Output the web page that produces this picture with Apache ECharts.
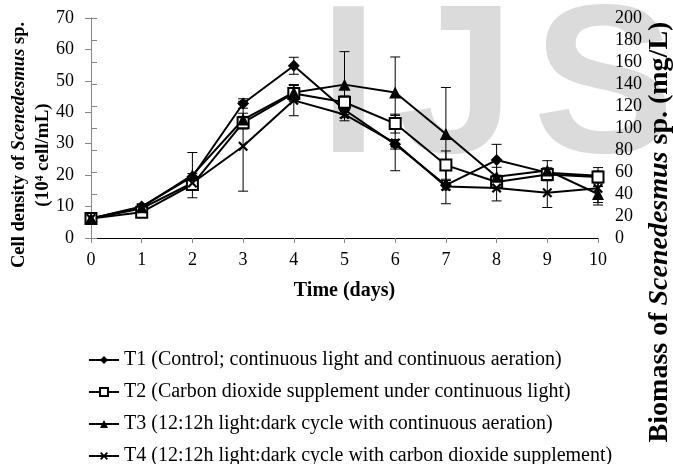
<!DOCTYPE html>
<html><head><meta charset="utf-8">
<script src="https://cdn.jsdelivr.net/npm/echarts@6/dist/echarts.min.js"></script>
<style>html,body{margin:0;padding:0;background:#fff}#c{width:673px;height:464px}</style>
</head><body><div id="c"></div>
<script>
// ---- data ----
const days = [0, 1, 2, 3, 4, 5, 6, 7, 8, 9, 10];
const t1 = [6.2, 10.0, 19.5, 42.8, 54.8, 40.8, 29.8, 16.8, 24.8, 20.8, 19.8];
const t2 = [6.2, 8.2, 17.0, 36.7, 46.0, 43.2, 36.4, 23.2, 17.8, 20.2, 19.4];
const t3 = [6.2, 9.8, 20.0, 37.7, 46.3, 48.8, 46.3, 33.1, 19.5, 21.5, 14.0];
const t4 = [6.2, 9.4, 17.5, 29.2, 43.8, 39.3, 30.2, 16.4, 15.9, 14.4, 15.8];
const e1 = [0.5, 0.8, 1.0, 1.5, 2.7, 1.5, 1.5, 1.5, 5.0, 1.5, 1.5];
const e2 = [0.5, 0.6, 1.5, 2.0, 2.5, 2.0, 3.0, 4.5, 2.0, 2.0, 3.0];
const e3 = [0.5, 1.0, 7.2, 2.0, 2.5, 10.5, 11.3, 14.8, 3.0, 3.1, 3.5];
const e4 = [0.5, 0.8, 2.0, 14.3, 4.9, 2.0, 8.8, 5.5, 4.1, 4.7, 4.5];
const names = [
  'T1 (Control; continuous light and continuous aeration)',
  'T2 (Carbon dioxide supplement under continuous light)',
  'T3 (12:12h light:dark cycle with continuous aeration)',
  'T4 (12:12h light:dark cycle with carbon dioxide supplement)'
];
const leftTitle1 = ['Cell density of ', 'Scenedesmus', ' sp.'];
const leftTitle2 = '(10\u2074 cell/mL)';
const rightTitle = ['Biomass of ', 'Scenedesmus', ' sp. (mg/L)'];
const xTitle = 'Time (days)';
const watermark = ['I', 'J', 'S'];

// ---- chart ----
const SERIF = '"Liberation Serif", "Times New Roman", serif';
const AX = '#868686';
const chart = echarts.init(document.getElementById('c'), null, {renderer: 'canvas'});

function pts(v) { return days.map((d, i) => [d, v[i]]); }
function errSeries(id, v, e) {
  return {
    type: 'custom', name: id, silent: true, z: 3,
    data: days.map((d, i) => [d, v[i] - e[i], v[i] + e[i]]),
    encode: {x: 0, y: [1, 2]},
    renderItem(params, api) {
      const lo = api.coord([api.value(0), api.value(1)]);
      const hi = api.coord([api.value(0), api.value(2)]);
      const w = 5, st = {stroke: '#000', lineWidth: 1};
      return {type: 'group', children: [
        {type: 'line', shape: {x1: lo[0], y1: lo[1], x2: hi[0], y2: hi[1]}, style: st},
        {type: 'line', shape: {x1: lo[0] - w, y1: lo[1], x2: lo[0] + w, y2: lo[1]}, style: st},
        {type: 'line', shape: {x1: hi[0] - w, y1: hi[1], x2: hi[0] + w, y2: hi[1]}, style: st}
      ]};
    }
  };
}
const xSym = 'path://M0,1.6L1.6,0L5,3.4L8.4,0L10,1.6L6.6,5L10,8.4L8.4,10L5,6.6L1.6,10L0,8.4L3.4,5Z';
function lineSeries(name, v, symbol, size, item) {
  return {
    type: 'line', name, data: pts(v), symbol, symbolSize: size, z: 4,
    lineStyle: {color: '#000', width: 2}, itemStyle: item,
    emphasis: {disabled: true}
  };
}
const b = {fontFamily: SERIF, fontWeight: 'bold', fill: '#000'};
const wmStyle = {fontFamily: '"Liberation Sans", Arial, sans-serif', fontWeight: 'bold', fontSize: 212, fill: '#dbdbdb', textVerticalAlign: 'middle', textAlign: 'left'};

function legendFor(i) {
  return {
    data: [names[i]], orient: 'vertical', left: 88, top: 350 + 32 * i, padding: 0,
    itemWidth: 30, itemHeight: 10, selectedMode: false,
    textStyle: {color: '#000', fontFamily: SERIF, fontSize: 20}
  };
}

chart.setOption({
  animation: false,
  backgroundColor: '#fff',
  grid: {left: 91, right: 75, top: 18, bottom: 226, containLabel: false, outerBoundsMode: 'none'},
  xAxis: [{
    type: 'value', min: 0, max: 10, interval: 1, position: 'bottom',
    axisLine: {lineStyle: {color: AX, width: 1}},
    axisTick: {show: true, inside: false, length: 5, lineStyle: {color: AX}},
    axisLabel: {color: '#000', fontFamily: SERIF, fontSize: 18, margin: 13},
    splitLine: {show: false}
  }, {
    type: 'value', min: 0, max: 10, position: 'top',
    axisLine: {show: true, lineStyle: {color: '#000', width: 1}},
    axisTick: {show: false}, axisLabel: {show: false}, splitLine: {show: false}
  }],
  yAxis: [{
    type: 'value', min: 0, max: 70, interval: 10, position: 'left',
    axisLine: {show: true, lineStyle: {color: AX}},
    axisTick: {show: true, length: 6, lineStyle: {color: AX}},
    axisLabel: {color: '#000', fontFamily: SERIF, fontSize: 18, margin: 17},
    splitLine: {show: false}
  }, {
    type: 'value', min: 0, max: 200, interval: 20, position: 'right',
    axisLine: {show: true, lineStyle: {color: AX}},
    axisTick: {show: true, length: 6, lineStyle: {color: AX}},
    axisLabel: {color: '#000', fontFamily: SERIF, fontSize: 18, margin: 17},
    splitLine: {show: false}
  }],
  legend: [legendFor(0), legendFor(1), legendFor(2), legendFor(3)],
  graphic: [
    {type: 'text', x: 319, y: 94, z: -100, silent: true, style: Object.assign({text: watermark[0]}, wmStyle)},
    {type: 'text', x: 397, y: 94, z: -100, silent: true, style: Object.assign({text: watermark[1]}, wmStyle)},
    {type: 'text', x: 533, y: 94, z: -100, silent: true, style: Object.assign({text: watermark[2]}, wmStyle)},
    {type: 'text', x: 19, y: 145, rotation: Math.PI / 2, silent: true,
      style: {text: '{b|' + leftTitle1[0] + '}{i|' + leftTitle1[1] + '}{b|' + leftTitle1[2] + '}',
        textAlign: 'center', textVerticalAlign: 'middle',
        rich: {b: Object.assign({fontSize: 18.5}, b), i: Object.assign({fontSize: 18.5, fontStyle: 'italic'}, b)}}},
    {type: 'text', x: 43, y: 155, rotation: Math.PI / 2, silent: true,
      style: Object.assign({text: leftTitle2, fontSize: 19, textAlign: 'center', textVerticalAlign: 'middle'}, b)},
    {type: 'text', x: 660, y: 232, rotation: Math.PI / 2, silent: true,
      style: {text: '{b|' + rightTitle[0] + '}{i|' + rightTitle[1] + '}{b|' + rightTitle[2] + '}',
        textAlign: 'center', textVerticalAlign: 'middle',
        rich: {b: Object.assign({fontSize: 28}, b), i: Object.assign({fontSize: 28, fontStyle: 'italic'}, b)}}},
    {type: 'text', x: 344.5, y: 291, silent: true,
      style: Object.assign({text: xTitle, fontSize: 20, textAlign: 'center', textVerticalAlign: 'middle'}, b)}
  ],
  series: [
    errSeries('err1', t1, e1), errSeries('err2', t2, e2), errSeries('err3', t3, e3), errSeries('err4', t4, e4),
    lineSeries(names[0], t1, 'diamond', 12, {color: '#000'}),
    lineSeries(names[1], t2, 'rect', 11, {color: '#fff', borderColor: '#000', borderWidth: 2}),
    lineSeries(names[2], t3, 'triangle', 12, {color: '#000'}),
    lineSeries(names[3], t4, xSym, 10, {color: '#000'})
  ]
});
</script>
</body></html>
